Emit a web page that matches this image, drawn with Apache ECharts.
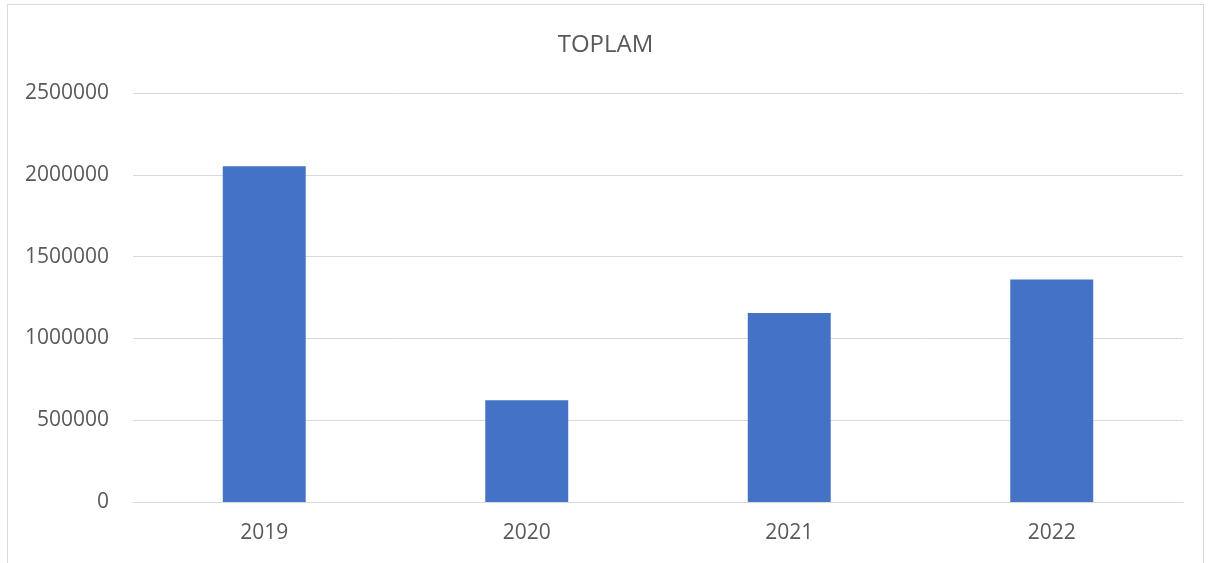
<!DOCTYPE html>
<html>
<head>
<meta charset="utf-8">
<script src="https://cdn.jsdelivr.net/npm/echarts@6/dist/echarts.min.js"></script>
<style>
html,body{margin:0;padding:0;background:#fff;}
#frame{position:absolute;left:7px;top:4px;width:1197px;height:580px;border:1px solid #d9d9d9;box-sizing:border-box;}
#chart{position:absolute;left:0;top:0;width:1211px;height:563px;}
</style>
</head>
<body>
<div id="frame"></div>
<div id="chart"></div>
<script>
const categories = ['2019', '2020', '2021', '2022'];
const values = [2052000, 622000, 1155000, 1360000];
const yTicks = { min: 0, max: 2500000, interval: 500000 };
const titleText = 'TOPLAM';

const chart = echarts.init(document.getElementById('chart'), null, { renderer: 'canvas' });
const font = '"Open Sans", "Noto Sans", sans-serif';
chart.setOption({
  animation: false,
  title: {
    text: titleText, left: 'center', top: 28,
    textStyle: { fontFamily: font, fontSize: 24, fontWeight: 'normal', color: '#595959' }
  },
  grid: { left: 133, right: 28, top: 93, bottom: 61, containLabel: false },
  xAxis: {
    type: 'category', data: categories,
    axisLine: { lineStyle: { color: '#d9d9d9', width: 1 } },
    axisTick: { show: false },
    axisLabel: { fontFamily: font, fontSize: 21, color: '#595959', margin: 21 }
  },
  yAxis: {
    type: 'value', min: yTicks.min, max: yTicks.max, interval: yTicks.interval,
    axisLine: { show: false }, axisTick: { show: false },
    splitLine: { lineStyle: { color: '#d9d9d9', width: 1 } },
    axisLabel: { fontFamily: font, fontSize: 21, color: '#595959', margin: 24,
      formatter: function (v) { return String(v); } }
  },
  series: [{
    type: 'bar', data: values, barWidth: '31.6%',
    itemStyle: { color: '#4472c4' }
  }]
});
</script>
</body>
</html>
